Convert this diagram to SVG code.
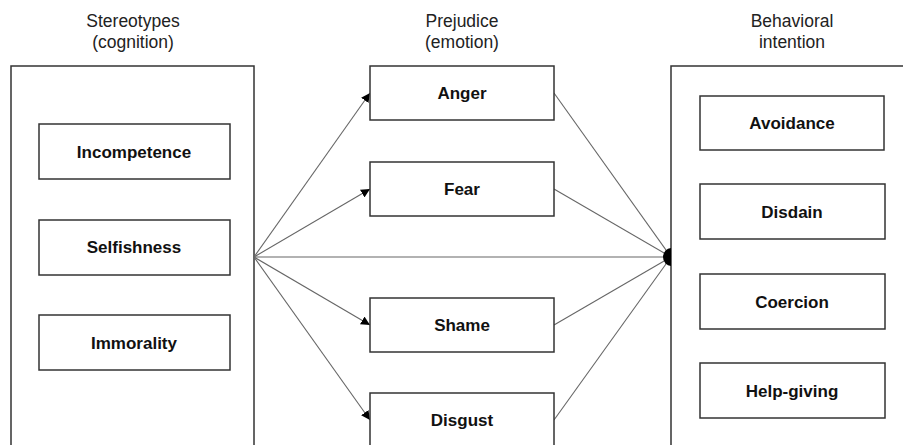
<svg xmlns="http://www.w3.org/2000/svg" width="903" height="445" viewBox="0 0 903 445">
<style>
.box{fill:#fff;stroke:#333;stroke-width:1.5}
.t{font-family:"Liberation Sans",Arial,sans-serif;font-size:17.5px;fill:#222;text-anchor:middle}
.b{font-family:"Liberation Sans",Arial,sans-serif;font-size:17px;font-weight:bold;fill:#111;text-anchor:middle}
.c{stroke:#666;stroke-width:1.1;fill:none}
</style>
<defs>
<marker id="ah" viewBox="0 0 10 10" refX="10" refY="5" markerWidth="9" markerHeight="9" markerUnits="userSpaceOnUse" orient="auto">
<path d="M0,0 L10,5 L0,10 Z" fill="#000"/>
</marker>
</defs>
<g id="titles">
<text class="t" x="133" y="27">Stereotypes</text>
<text class="t" x="133" y="48">(cognition)</text>
<text class="t" x="462" y="27">Prejudice</text>
<text class="t" x="462" y="48">(emotion)</text>
<text class="t" x="792" y="27">Behavioral</text>
<text class="t" x="792" y="48">intention</text>
</g>
<g id="stereotypes"><rect class="box" x="11" y="66" width="243" height="390"/></g>
<g id="behavioral"><rect class="box" x="671" y="66" width="250" height="390"/></g>
<g id="connectors">
<line class="c" x1="254" y1="257" x2="370" y2="93" marker-end="url(#ah)"/>
<line class="c" x1="254" y1="257" x2="370" y2="189" marker-end="url(#ah)"/>
<line class="c" x1="254" y1="257" x2="370" y2="325" marker-end="url(#ah)"/>
<line class="c" x1="254" y1="257" x2="370" y2="420" marker-end="url(#ah)"/>
<line class="c" x1="254" y1="257" x2="671" y2="257"/>
<line class="c" x1="554" y1="93" x2="671" y2="257"/>
<line class="c" x1="554" y1="189" x2="671" y2="257"/>
<line class="c" x1="554" y1="325" x2="671" y2="257"/>
<line class="c" x1="554" y1="420" x2="671" y2="257"/>
<path d="M671,248 A8,9 0 0 0 671,266 Z" fill="#000"/>
</g>
<g id="incompetence"><rect class="box" x="39" y="124" width="191" height="55"/><text class="b" x="134" y="158">Incompetence</text></g>
<g id="selfishness"><rect class="box" x="39" y="220" width="191" height="55"/><text class="b" x="134" y="253">Selfishness</text></g>
<g id="immorality"><rect class="box" x="39" y="315" width="191" height="55"/><text class="b" x="134" y="349">Immorality</text></g>
<g id="anger"><rect class="box" x="370" y="66" width="184" height="54"/><text class="b" x="462" y="99">Anger</text></g>
<g id="fear"><rect class="box" x="370" y="162" width="184" height="54"/><text class="b" x="462" y="195">Fear</text></g>
<g id="shame"><rect class="box" x="370" y="298" width="184" height="54"/><text class="b" x="462" y="331">Shame</text></g>
<g id="disgust"><rect class="box" x="370" y="393" width="184" height="60"/><text class="b" x="462" y="426">Disgust</text></g>
<g id="avoidance"><rect class="box" x="700" y="96" width="184" height="54"/><text class="b" x="792" y="129">Avoidance</text></g>
<g id="disdain"><rect class="box" x="700" y="184" width="185" height="55"/><text class="b" x="792" y="218">Disdain</text></g>
<g id="coercion"><rect class="box" x="700" y="274" width="185" height="55"/><text class="b" x="792" y="308">Coercion</text></g>
<g id="help-giving"><rect class="box" x="700" y="363" width="185" height="55"/><text class="b" x="792" y="397">Help-giving</text></g>
</svg>
